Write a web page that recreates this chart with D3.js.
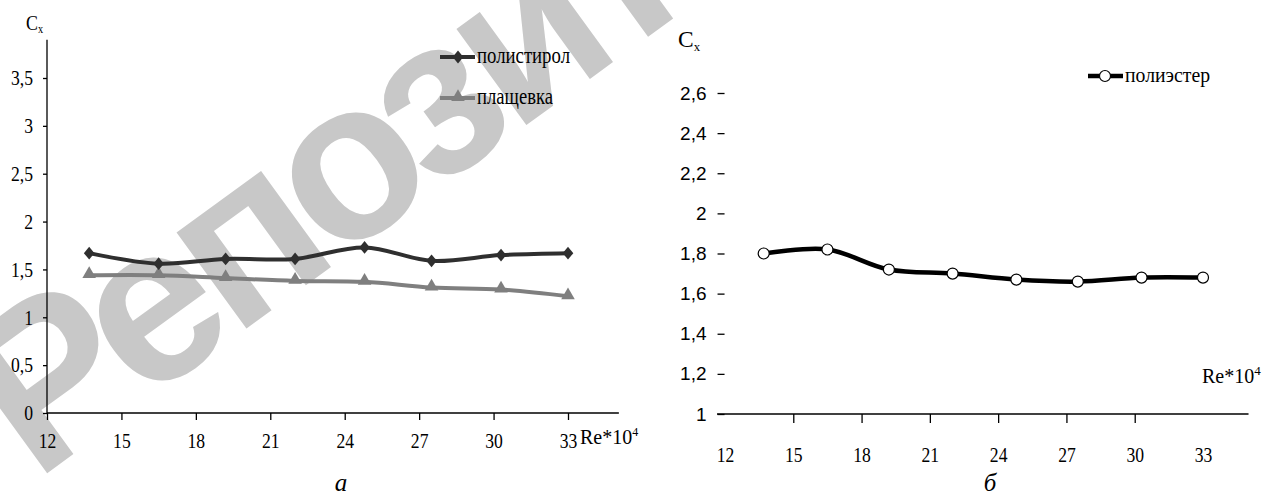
<!DOCTYPE html>
<html>
<head>
<meta charset="utf-8">
<script src="https://cdn.jsdelivr.net/npm/d3@7"></script>
<style>
    body { margin: 0; background: #fff; }
    svg { display: block; }
    .serif { font-family: "Liberation Serif", "Times New Roman", serif; }
    .sans { font-family: "Liberation Sans", Arial, sans-serif; }
    .cond { transform-box: fill-box; transform-origin: center; transform: scaleX(0.84); }
    .condR { transform-box: fill-box; transform-origin: right center; transform: scaleX(0.84); }
    .axis path.domain { display: none; }
</style>
</head>
<body>
<svg id="chart" width="1266" height="495"></svg>
<script>
(function (d3) {

    // Re*10^4 values shared by all three series
    var reValues = [13.7, 16.5, 19.2, 22.0, 24.8, 27.5, 30.3, 33.0];

    var polystyrene = [1.67, 1.56, 1.61, 1.61, 1.73, 1.59, 1.65, 1.67];
    var raincoat = [1.44, 1.44, 1.41, 1.38, 1.37, 1.31, 1.29, 1.22];
    var polyester = [1.80, 1.82, 1.72, 1.70, 1.67, 1.66, 1.68, 1.68];

    var seriesNames = ['полистирол', 'плащевка', 'полиэстер'];

    var xTicks = [12, 15, 18, 21, 24, 27, 30, 33];
    var yTicksA = [0, 0.5, 1, 1.5, 2, 2.5, 3, 3.5];
    var yTicksB = [1, 1.2, 1.4, 1.6, 1.8, 2, 2.2, 2.4, 2.6];

    var commaFmt = function (v) {
        return String(v).replace('.', ',');
    };

    var svg = d3.select('#chart');

    // watermark behind everything
    svg.append('text')
        .attr('class', 'sans')
        .attr('transform', 'translate(35,482) rotate(-36)')
        .attr('font-size', 225)
        .attr('font-weight', 'bold')
        .attr('letter-spacing', -12)
        .attr('fill', '#c8c8c8')
        .text('Репозиторий');

    function toPoints(values) {
        return values.map(function (v, i) {
            return { x: reValues[i], y: v };
        });
    }

    /* ---------- chart a ---------- */

    var xA = d3.scaleLinear().domain([12, 33]).range([47, 568]);
    var yA = d3.scaleLinear().domain([0, 3.5]).range([413, 78]);

    var gA = svg.append('g');

    gA.append('line')
        .attr('x1', xA(12)).attr('x2', xA(12))
        .attr('y1', yA(3.9)).attr('y2', yA(0))
        .attr('stroke', '#000').attr('stroke-width', 1.3);

    gA.append('line')
        .attr('x1', xA(12)).attr('x2', xA(35.05))
        .attr('y1', yA(0)).attr('y2', yA(0))
        .attr('stroke', '#000').attr('stroke-width', 1.3);

    var yAxisA = d3.axisLeft(yA)
        .tickValues(yTicksA)
        .tickSizeInner(4)
        .tickSizeOuter(0)
        .tickPadding(10)
        .tickFormat(commaFmt);

    var xAxisA = d3.axisBottom(xA)
        .tickValues(xTicks)
        .tickSizeInner(7)
        .tickSizeOuter(0)
        .tickFormat(d3.format('d'));

    gA.append('g')
        .attr('class', 'axis serif')
        .attr('transform', 'translate(' + xA(12) + ',0)')
        .call(yAxisA);

    gA.append('g')
        .attr('class', 'axis serif')
        .attr('transform', 'translate(0,' + yA(0) + ')')
        .call(xAxisA);

    gA.selectAll('.axis .tick line').attr('stroke', '#000').attr('stroke-width', 1.3);
    gA.selectAll('.axis text').attr('font-size', 21).attr('fill', '#000');
    gA.selectAll('.axis text').each(function () {
        var t = d3.select(this);
        if (+t.attr('x') < 0) {
            t.attr('class', 'condR');
        } else {
            t.attr('class', 'cond').attr('y', 20);
        }
    });

    var lineA = d3.line()
        .x(function (d) { return xA(d.x); })
        .y(function (d) { return yA(d.y); })
        .curve(d3.curveCatmullRom.alpha(0.5));

    gA.append('path')
        .attr('d', lineA(toPoints(raincoat)))
        .attr('fill', 'none')
        .attr('stroke', '#7f7f7f')
        .attr('stroke-width', 4);

    gA.append('path')
        .attr('d', lineA(toPoints(polystyrene)))
        .attr('fill', 'none')
        .attr('stroke', '#2f2f2f')
        .attr('stroke-width', 4);

    var diamond = d3.symbol().type(d3.symbolDiamond2).size(72);
    var triangle = d3.symbol().type(d3.symbolTriangle).size(80);

    gA.selectAll('.tri')
        .data(toPoints(raincoat))
        .enter()
        .append('path')
        .attr('class', 'tri')
        .attr('transform', function (d) {
            return 'translate(' + xA(d.x) + ',' + (yA(d.y) - 1) + ')';
        })
        .attr('d', triangle)
        .attr('fill', '#7f7f7f');

    gA.selectAll('.dia')
        .data(toPoints(polystyrene))
        .enter()
        .append('path')
        .attr('class', 'dia')
        .attr('transform', function (d) {
            return 'translate(' + xA(d.x) + ',' + yA(d.y) + ') scale(1,1.2)';
        })
        .attr('d', diamond)
        .attr('fill', '#2f2f2f');

    // legend a
    var legA = gA.append('g');

    legA.append('line')
        .attr('x1', 440).attr('x2', 475).attr('y1', 57).attr('y2', 57)
        .attr('stroke', '#2f2f2f').attr('stroke-width', 4);
    legA.append('path')
        .attr('transform', 'translate(458,57) scale(1,1.2)')
        .attr('d', diamond)
        .attr('fill', '#2f2f2f');
    legA.append('text')
        .attr('class', 'serif')
        .attr('x', 477).attr('y', 63)
        .attr('font-size', 23)
        .attr('textLength', 93)
        .attr('lengthAdjust', 'spacingAndGlyphs')
        .text(seriesNames[0]);

    legA.append('line')
        .attr('x1', 440).attr('x2', 475).attr('y1', 98).attr('y2', 98)
        .attr('stroke', '#7f7f7f').attr('stroke-width', 4);
    legA.append('path')
        .attr('transform', 'translate(458,97)')
        .attr('d', triangle)
        .attr('fill', '#7f7f7f');
    legA.append('text')
        .attr('class', 'serif')
        .attr('x', 477).attr('y', 104)
        .attr('font-size', 23)
        .attr('textLength', 76)
        .attr('lengthAdjust', 'spacingAndGlyphs')
        .text(seriesNames[1]);

    // axis titles a
    var cxA = gA.append('text')
        .attr('class', 'serif')
        .attr('x', 26).attr('y', 30)
        .attr('font-size', 21)
        .attr('textLength', 17)
        .attr('lengthAdjust', 'spacingAndGlyphs');
    cxA.append('tspan').text('C');
    cxA.append('tspan').attr('font-size', 12).attr('dy', 3).text('x');

    var reA = gA.append('text')
        .attr('class', 'serif')
        .attr('x', 580).attr('y', 444)
        .attr('font-size', 20);
    reA.append('tspan').text('Re*10');
    reA.append('tspan').attr('font-size', 12).attr('dy', -8).text('4');

    gA.append('text')
        .attr('class', 'serif')
        .attr('x', 341).attr('y', 491)
        .attr('text-anchor', 'middle')
        .attr('font-size', 25)
        .attr('font-style', 'italic')
        .text('а');

    /* ---------- chart б ---------- */

    var xB = d3.scaleLinear().domain([12, 33]).range([725, 1203]);
    var yB = d3.scaleLinear().domain([1, 2.6]).range([414, 93]);

    var gB = svg.append('g');

    gB.append('line')
        .attr('x1', xB(11.65)).attr('x2', xB(35))
        .attr('y1', yB(1)).attr('y2', yB(1))
        .attr('stroke', '#000').attr('stroke-width', 1.3);

    var yAxisB = d3.axisLeft(yB)
        .tickValues(yTicksB)
        .tickSizeInner(7)
        .tickSizeOuter(0)
        .tickPadding(11)
        .tickFormat(commaFmt);

    var xAxisB = d3.axisBottom(xB)
        .tickValues(xTicks)
        .tickSizeInner(9)
        .tickSizeOuter(0)
        .tickFormat(d3.format('d'));

    var yAxB = gB.append('g')
        .attr('class', 'axis sans')
        .attr('transform', 'translate(' + xB(11.98) + ',0)')
        .call(yAxisB);
    yAxB.selectAll('text').attr('font-size', 19).attr('fill', '#000');
    yAxB.selectAll('.tick line').attr('stroke', '#000').attr('stroke-width', 1.3);

    var xAxB = gB.append('g')
        .attr('class', 'axis serif')
        .attr('transform', 'translate(0,' + yB(1) + ')')
        .call(xAxisB);
    xAxB.selectAll('text')
        .attr('font-size', 21)
        .attr('fill', '#000')
        .attr('y', 33)
        .attr('class', 'cond');
    xAxB.selectAll('.tick line')
        .attr('stroke', '#000')
        .attr('stroke-width', 1.3)
        .attr('display', function (d) {
            return (d === 12 || d === 33) ? 'none' : null;
        });

    var lineB = d3.line()
        .x(function (d) { return xB(d.x); })
        .y(function (d) { return yB(d.y); })
        .curve(d3.curveCatmullRom.alpha(0.5));

    gB.append('path')
        .attr('d', lineB(toPoints(polyester)))
        .attr('fill', 'none')
        .attr('stroke', '#000')
        .attr('stroke-width', 4.5);

    gB.selectAll('.pt')
        .data(toPoints(polyester))
        .enter()
        .append('circle')
        .attr('class', 'pt')
        .attr('cx', function (d) { return xB(d.x); })
        .attr('cy', function (d) { return yB(d.y); })
        .attr('r', 5.5)
        .attr('fill', '#fff')
        .attr('stroke', '#000')
        .attr('stroke-width', 1.2);

    // legend б
    var legB = gB.append('g');
    legB.append('line')
        .attr('x1', 1088).attr('x2', 1123).attr('y1', 76).attr('y2', 76)
        .attr('stroke', '#000').attr('stroke-width', 4.5);
    legB.append('circle')
        .attr('cx', 1105).attr('cy', 76).attr('r', 5.5)
        .attr('fill', '#fff').attr('stroke', '#000').attr('stroke-width', 1.2);
    legB.append('text')
        .attr('class', 'serif')
        .attr('x', 1125).attr('y', 82)
        .attr('font-size', 22)
        .attr('textLength', 85)
        .attr('lengthAdjust', 'spacingAndGlyphs')
        .text(seriesNames[2]);

    var cxB = gB.append('text')
        .attr('class', 'serif')
        .attr('x', 678).attr('y', 47)
        .attr('font-size', 24)
        .attr('textLength', 22)
        .attr('lengthAdjust', 'spacingAndGlyphs');
    cxB.append('tspan').text('C');
    cxB.append('tspan').attr('font-size', 13).attr('dy', 4).text('x');

    var reB = gB.append('text')
        .attr('class', 'serif')
        .attr('x', 1202).attr('y', 383)
        .attr('font-size', 20);
    reB.append('tspan').text('Re*10');
    reB.append('tspan').attr('font-size', 13).attr('dy', -8).text('4');

    gB.append('text')
        .attr('class', 'serif')
        .attr('x', 990).attr('y', 491)
        .attr('text-anchor', 'middle')
        .attr('font-size', 25)
        .attr('font-style', 'italic')
        .text('б');

})(d3);
</script>
</body>
</html>
